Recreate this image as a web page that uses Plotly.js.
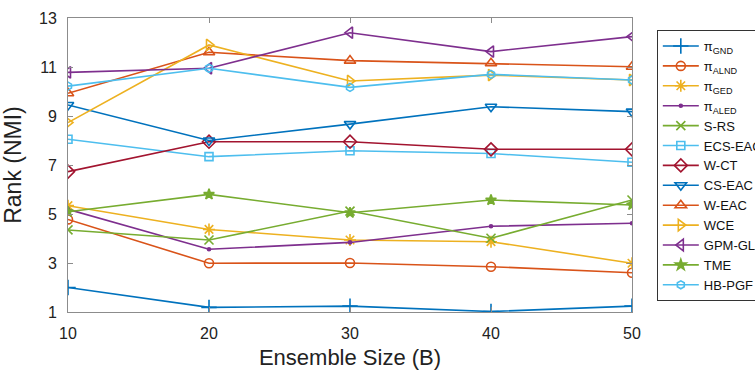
<!DOCTYPE html>
<html>
<head>
<meta charset="utf-8">
<script src="https://cdn.plot.ly/plotly-3.0.1.min.js"></script>
<style>html,body{margin:0;padding:0;background:#fff;}#chart{width:755px;height:374px;}</style>
</head>
<body>
<div id="chart"></div>
<script>
const ensembleSize = [10, 20, 30, 40, 50];

const piGND   = [2.00, 1.19, 1.24, 1.02, 1.24];
const piALND  = [4.78, 2.99, 3.00, 2.85, 2.60];
const piGED   = [5.34, 4.37, 3.94, 3.87, 2.99];
const piALED  = [5.19, 3.56, 3.84, 4.50, 4.62];
const sRS     = [4.35, 3.94, 5.12, 4.01, 5.57];
const ecsEAC  = [8.05, 7.34, 7.58, 7.47, 7.11];
const wCT     = [6.73, 7.95, 7.95, 7.64, 7.64];
const csEAC   = [9.45, 8.00, 8.67, 9.38, 9.18];
const wEAC    = [9.93, 11.60, 11.26, 11.15, 11.01];
const wCE     = [8.73, 11.90, 10.43, 10.67, 10.47];
const gpmGLA  = [10.78, 10.95, 12.40, 11.63, 12.24];
const tME     = [5.09, 5.80, 5.05, 5.57, 5.37];
const hbPGF   = [10.22, 10.95, 10.17, 10.70, 10.47];

const seriesNames = ['π<sub>GND</sub>', 'π<sub>ALND</sub>', 'π<sub>GED</sub>', 'π<sub>ALED</sub>',
  'S-RS', 'ECS-EAC', 'W-CT', 'CS-EAC', 'W-EAC', 'WCE', 'GPM-GLA', 'TME', 'HB-PGF'];
const seriesValues = [piGND, piALND, piGED, piALED, sRS, ecsEAC, wCT, csEAC, wEAC, wCE, gpmGLA, tME, hbPGF];
const xTicks = [10, 20, 30, 40, 50];
const yTicks = [1, 3, 5, 7, 9, 11, 13];

const colors = ['#0072BD', '#D95319', '#EDB120', '#7E2F8E', '#77AC30', '#4DBEEE', '#A2142F',
  '#0072BD', '#D95319', '#EDB120', '#7E2F8E', '#77AC30', '#4DBEEE'];
const symbols = ['cross-thin-open', 'circle-open', 'asterisk-open', 'circle', 'x-thin-open', 'square-open',
  'diamond-open', 'triangle-down-open', 'triangle-up-open', 'triangle-right-open', 'triangle-left-open',
  'star', 'hexagon-open'];
const sizes = [11, 9, 10, 3, 9, 8, 10, 10, 10, 10, 10, 8, 8];

const traces = seriesNames.map((n, i) => ({
  x: ensembleSize,
  y: seriesValues[i],
  name: n,
  type: 'scatter',
  mode: 'lines+markers',
  line: {color: colors[i], width: 1.6},
  marker: {symbol: symbols[i], size: sizes[i], color: colors[i], line: {color: colors[i], width: 1.6}}
}));

const fam = 'Liberation Sans, Arial, sans-serif';
const axisCommon = {
  showgrid: false, zeroline: false, showline: true, mirror: 'ticks',
  linecolor: '#8c8c8c', linewidth: 1, ticks: 'inside', ticklen: 5, tickcolor: '#8c8c8c',
  ticklabelstandoff: 7,
  tickfont: {family: fam, size: 16, color: '#222'}
};

const layout = {
  width: 755, height: 374,
  paper_bgcolor: '#fff', plot_bgcolor: '#fff',
  margin: {l: 68, r: 123, t: 18, b: 62, autoexpand: false},
  showlegend: true,
  xaxis: Object.assign({}, axisCommon, {
    range: [10, 50], tickvals: xTicks,
    title: {text: 'Ensemble Size (B)', font: {family: fam, size: 22, color: '#222'}, standoff: 8}
  }),
  yaxis: Object.assign({}, axisCommon, {
    range: [1, 13], tickvals: yTicks,
    title: {text: 'Rank (NMI)', font: {family: fam, size: 23, color: '#222'}, standoff: 10}
  }),
  legend: {
    x: 1.044, xanchor: 'left', y: 0.959, yanchor: 'top',
    bgcolor: '#fff', bordercolor: '#333', borderwidth: 1,
    font: {family: fam, size: 13, color: '#111'},
    itemwidth: 36
  }
};

Plotly.newPlot('chart', traces, layout, {displayModeBar: false, staticPlot: true});
</script>
</body>
</html>
